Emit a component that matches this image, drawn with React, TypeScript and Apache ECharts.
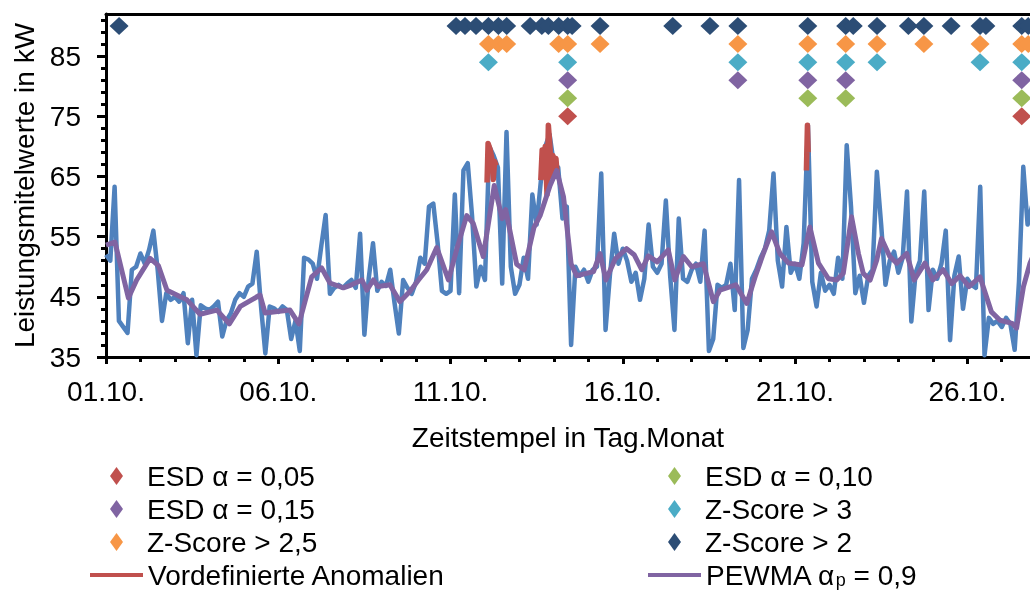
import { useEffect, useRef } from 'react';
import * as echarts from 'echarts';

const FONT = '"Liberation Sans", Arial, Helvetica, sans-serif';

// x axis: days since 01.10. 00:00
const X_MAX = 26.82;
const majorDays = [0, 5, 10, 15, 20, 25];
const dayLabels = ['01.10.', '06.10.', '11.10.', '16.10.', '21.10.', '26.10.'];
const minorDays = [1, 2, 3, 4, 6, 7, 8, 9, 11, 12, 13, 14, 16, 17, 18, 19, 21, 22, 23, 24, 26];

const Y_MIN = 35;
const Y_MAX = 92;
const yMajor = [35, 45, 55, 65, 75, 85];
const yMinor = [37, 39, 41, 43, 47, 49, 51, 53, 57, 59, 61, 63, 67, 69, 71, 73, 77, 79, 81, 83, 87, 89, 91];

// measured mean power in kW, one value every 3 hours
const SAMPLES_PER_DAY = 8;
const power = [
  52, 51, 63.3, 41, 40, 39, 49.5, 50,
  52.2, 50.5, 52.8, 56, 49.5, 41, 45.6, 44.5,
  45, 44.2, 45.6, 37.3, 44.5, 35.3, 43.6, 43.1,
  42.8, 43.4, 44.2, 38.4, 41.1, 42.3, 44.5, 45.6,
  45, 46.7, 47.2, 52.5, 43.4, 35.6, 43.4, 43.1,
  42.5, 43.4, 42.8, 38, 41, 36, 51.5, 51.2,
  50.5, 48, 53.5, 58.6, 45.5, 46.5, 47, 46.5,
  47.2, 47.8, 46.5, 55.5, 38.7, 48, 53.9, 46,
  47.5, 46.8, 49.5, 44, 38.9, 47.8, 46.5, 45.5,
  47.5, 51.5, 50.5, 60, 60.5, 54, 46, 45.5,
  46, 62, 45.6, 66, 67.2, 58.5, 46.7, 50,
  47.8, 70, 68.5, 66.5, 47.2, 72.4, 50, 45.5,
  47, 51.5, 48, 62, 57, 64.4, 70, 72,
  67, 66.5, 58, 60, 37, 50, 48.5, 49.5,
  47.5, 49.5, 50, 65.5, 39.5, 48.5, 55.5, 50.5,
  53, 51, 47.5, 49, 44.5, 48, 57, 50,
  49, 50.5, 61, 48.5, 39.5, 58, 48, 47.5,
  49.5, 50.5, 47.5, 56, 36, 38, 47, 46.5,
  47, 50.5, 42.8, 64.4, 36.5, 39.5, 48, 49.5,
  51.5, 53, 56, 65.5, 51, 46.7, 56.6, 49,
  50.5, 48, 53.9, 73.5, 47.5, 43.4, 49, 46,
  47, 45.5, 51.5, 48, 70.2, 60, 45.6, 48.5,
  44, 48.5, 49.5, 65.8, 57, 47, 51, 52.5,
  49, 51.5, 62.5, 40.9, 49, 51, 62.5, 42.8,
  49.5, 48, 50.5, 56, 37.8, 48.5, 51.7, 43,
  48, 47, 46.5, 63.3, 35.3, 41.5, 40.5, 41,
  40, 41.5, 40.5, 36.2, 47.5, 66.6, 57, 60,
  52,
];

// predefined anomalies [day, kW]; '-' separates the windows
const anomalies: (number | string)[][] = [
  [11.06, 64], [11.09, 70.5], [11.15, 69.5], [11.2, 68], [11.24, 64.5], [11.28, 67.5], [11.32, 66.8],
  ['-', '-'],
  [12.62, 64.4], [12.66, 69.4], [12.7, 65], [12.75, 70], [12.8, 62], [12.84, 73.5], [12.88, 70.5],
  [12.93, 65], [12.97, 68.5], [13.02, 66], [13.06, 68], [13.1, 65],
  ['-', '-'],
  [20.33, 66], [20.36, 73.5], [20.38, 69],
];

// PEWMA forecast [day, kW]
const pewma: [number, number][] = [
  [0, 53.6], [0.26, 54.1], [0.65, 44.8], [0.89, 47.8], [1.28, 51.4], [1.52, 50.2], [1.77, 46.1],
  [2.16, 45], [2.35, 44.5], [2.73, 42.1], [3.22, 42.8], [3.58, 40.5], [3.9, 43.4], [4.47, 45.3],
  [4.62, 42.3], [5.34, 42.8], [5.6, 40.5], [5.97, 48.3], [6.26, 49.8], [6.5, 47.3], [6.89, 46.5],
  [7.13, 47], [7.43, 47.8], [7.57, 46.1], [7.76, 47.8], [7.9, 46.7], [8.24, 47], [8.53, 44.2],
  [8.82, 45.9], [9.07, 47.8], [9.31, 49.5], [9.6, 53.2], [9.94, 47.8], [10.2, 53.3], [10.47, 58.5],
  [10.66, 57.2], [10.95, 51.7], [11.27, 63.5], [11.5, 58], [11.6, 59.5], [11.92, 50.4], [12.14, 49.5],
  [12.42, 56.5], [12.6, 58.5], [12.89, 63.5], [13.08, 66], [13.28, 61.6], [13.5, 50.5], [13.66, 48.5],
  [14.15, 49.2], [14.34, 52.2], [14.51, 47.8], [14.78, 51.3], [15.11, 53], [15.33, 52], [15.55, 49.5],
  [15.74, 51.8], [16.0, 50.8], [16.32, 52.8], [16.51, 47.8], [16.76, 51.7], [17.0, 50], [17.34, 50.5],
  [17.63, 44.2], [17.82, 46.1], [18.28, 47], [18.6, 43.9], [18.84, 48.3], [19.08, 52.2], [19.32, 55.8],
  [19.56, 52.2], [19.81, 50.6], [20.2, 50.3], [20.43, 56.6], [20.68, 50.6], [20.97, 48], [21.21, 47.8],
  [21.4, 48.9], [21.64, 58.3], [21.84, 52.2], [21.98, 48.9], [22.18, 47.8], [22.37, 51.1], [22.51, 54.7],
  [22.75, 51.7], [22.95, 50.6], [23.24, 52.2], [23.46, 47.8], [23.77, 50.6], [24.0, 47.8], [24.3, 49.5],
  [24.55, 47.2], [24.79, 48.5], [25.05, 46.7], [25.37, 48.3], [25.7, 42.5], [25.95, 41.1], [26.3, 40.6],
  [26.43, 39.8], [26.63, 46.7], [26.82, 50.6], [27.0, 53],
];

// detected anomalies: timestamps (days) per method and the row each is plotted on (kW)
const markerNames = ['ESD α = 0,05', 'ESD α = 0,10', 'ESD α = 0,15', 'Z-Score > 3', 'Z-Score > 2,5', 'Z-Score > 2'];
const markerLevels = [75, 78, 81, 84, 87, 90];
const esd005Times = [13.4, 26.58];
const esd010Times = [13.4, 20.37, 21.47, 26.58];
const esd015Times = [13.4, 18.34, 20.37, 21.47, 26.58];
const z3Times = [11.1, 13.4, 18.34, 20.37, 21.47, 22.38, 25.37, 26.58];
const z25Times = [11.1, 11.39, 11.63, 13.14, 13.4, 14.34, 18.34, 20.37, 21.47, 22.38, 23.74, 25.37, 26.58, 26.77];
const z2Times = [
  0.38, 10.16, 10.42, 10.74, 11.1, 11.39, 11.63, 12.31, 12.65, 12.84, 13.14, 13.4, 13.53, 14.34,
  16.45, 17.53, 18.34, 20.37, 21.47, 21.69, 22.38, 23.29, 23.74, 24.53, 25.37, 25.54, 26.58, 26.77,
];
const markerTimes = [esd005Times, esd010Times, esd015Times, z3Times, z25Times, z2Times];
const markerColors = ['#C0504D', '#9BBB59', '#8064A2', '#4BACC6', '#F79646', '#2C4D75'];

const ANOMALY_NAME = 'Vordefinierte Anomalien';
const PEWMA_NAME = 'PEWMA αp = 0,9';

export default function App() {
  const ref = useRef<HTMLDivElement>(null);

  useEffect(() => {
    if (!ref.current) return;
    const chart = echarts.init(ref.current, undefined, { renderer: 'svg' });

    const grid = { left: 106, top: 14, right: 0, bottom: 233, outerBoundsMode: 'none' };
    const black = '#000';

    const markerSeries = markerNames.map((name, i) => ({
      name,
      type: 'scatter',
      xAxisIndex: 0,
      yAxisIndex: 0,
      symbol: 'diamond',
      symbolSize: [19, 18],
      itemStyle: { color: markerColors[i], opacity: 1 },
      z: 5,
      data: markerTimes[i].map((t) => [t, markerLevels[i]]),
    }));

    const legendText = { fontSize: 28, color: black, fontFamily: FONT, lineHeight: 28 };
    const legendBase = {
      orient: 'vertical',
      padding: 0,
      itemGap: 5,
      selectedMode: false,
    };
    const diamondLegend = {
      ...legendBase,
      top: 462,
      itemWidth: 13,
      itemHeight: 18,
      itemStyle: { opacity: 1 },
      textStyle: { ...legendText, padding: [0, 0, 0, 19] },
    };
    const lineLegend = {
      ...legendBase,
      top: 561,
      itemWidth: 53,
      itemHeight: 4,
      textStyle: legendText,
    };

    const option: any = {
      animation: false,
      textStyle: { fontFamily: FONT, color: black },
      grid: [grid, grid, grid],
      xAxis: [
        {
          type: 'value',
          gridIndex: 0,
          min: 0,
          max: X_MAX,
          position: 'bottom',
          axisLine: { show: true, lineStyle: { color: black, width: 3 } },
          axisTick: { show: true, customValues: majorDays, length: 7, lineStyle: { color: black, width: 3 } },
          axisLabel: {
            customValues: majorDays,
            formatter: (v: number) => dayLabels[majorDays.indexOf(Math.round(v))] ?? '',
            fontSize: 28,
            color: black,
            margin: 20,
            fontFamily: FONT,
          },
          splitLine: { show: false },
          name: 'Zeitstempel in Tag.Monat',
          nameLocation: 'middle',
          nameGap: 66,
          nameTextStyle: { fontSize: 28, color: black, fontFamily: FONT },
        },
        {
          type: 'value',
          gridIndex: 1,
          min: 0,
          max: X_MAX,
          position: 'bottom',
          axisLine: { show: false },
          axisTick: { show: true, customValues: minorDays, length: 5, lineStyle: { color: black, width: 3 } },
          axisLabel: { show: false },
          splitLine: { show: false },
        },
        {
          type: 'value',
          gridIndex: 2,
          min: 0,
          max: X_MAX,
          position: 'top',
          axisLine: { show: true, lineStyle: { color: black, width: 3 } },
          axisTick: { show: false },
          axisLabel: { show: false },
          splitLine: { show: false },
        },
      ],
      yAxis: [
        {
          type: 'value',
          gridIndex: 0,
          min: Y_MIN,
          max: Y_MAX,
          axisLine: { show: true, lineStyle: { color: black, width: 3 } },
          axisTick: { show: true, customValues: yMajor, length: 9, lineStyle: { color: black, width: 3 } },
          axisLabel: { customValues: yMajor, fontSize: 28, color: black, margin: 25, fontFamily: FONT },
          splitLine: { show: false },
          name: 'Leistungsmitelwerte in kW',
          nameLocation: 'middle',
          nameGap: 66,
          nameTextStyle: { fontSize: 28, color: black, fontFamily: FONT },
        },
        {
          type: 'value',
          gridIndex: 1,
          min: Y_MIN,
          max: Y_MAX,
          axisLine: { show: false },
          axisTick: { show: true, customValues: yMinor, length: 5, lineStyle: { color: black, width: 3 } },
          axisLabel: { show: false },
          splitLine: { show: false },
        },
        {
          type: 'value',
          gridIndex: 2,
          min: Y_MIN,
          max: Y_MAX,
          show: false,
          splitLine: { show: false },
        },
      ],
      legend: [
        {
          ...diamondLegend,
          left: 110,
          data: [markerNames[0], markerNames[2], markerNames[4]].map((name) => ({ name, icon: 'diamond' })),
        },
        {
          ...diamondLegend,
          left: 668,
          data: [markerNames[1], markerNames[3], markerNames[5]].map((name) => ({ name, icon: 'diamond' })),
        },
        {
          ...lineLegend,
          left: 90,
          data: [{ name: ANOMALY_NAME, icon: 'rect' }],
        },
        {
          ...lineLegend,
          left: 648,
          data: [{ name: PEWMA_NAME, icon: 'rect' }],
          formatter: () => '{m|PEWMA α}{s|p}{m| = 0,9}',
          textStyle: {
            ...legendText,
            rich: {
              m: { fontSize: 28, lineHeight: 28, color: black, fontFamily: FONT, verticalAlign: 'top' },
              s: { fontSize: 18, lineHeight: 12, color: black, fontFamily: FONT, verticalAlign: 'bottom' },
            },
          },
        },
      ],
      series: [
        {
          name: 'Leistungsmittelwert',
          type: 'line',
          xAxisIndex: 0,
          yAxisIndex: 0,
          symbol: 'none',
          lineStyle: { color: '#4F81BD', width: 4.5, join: 'round' },
          itemStyle: { color: '#4F81BD' },
          z: 2,
          data: power.map((v, i) => [i / SAMPLES_PER_DAY, v]),
        },
        {
          name: ANOMALY_NAME,
          type: 'line',
          xAxisIndex: 0,
          yAxisIndex: 0,
          symbol: 'none',
          connectNulls: false,
          lineStyle: { color: '#C0504D', width: 5.5, join: 'round' },
          itemStyle: { color: '#C0504D' },
          z: 3,
          data: anomalies,
        },
        {
          name: PEWMA_NAME,
          type: 'line',
          xAxisIndex: 0,
          yAxisIndex: 0,
          symbol: 'none',
          lineStyle: { color: '#8064A2', width: 5, join: 'round' },
          itemStyle: { color: '#8064A2' },
          z: 4,
          data: pewma,
        },
        ...markerSeries,
      ],
    };

    chart.setOption(option);
    return () => chart.dispose();
  }, []);

  return <div ref={ref} style={{ position: 'fixed', left: 0, top: 0, width: 1030, height: 590 }} />;
}
